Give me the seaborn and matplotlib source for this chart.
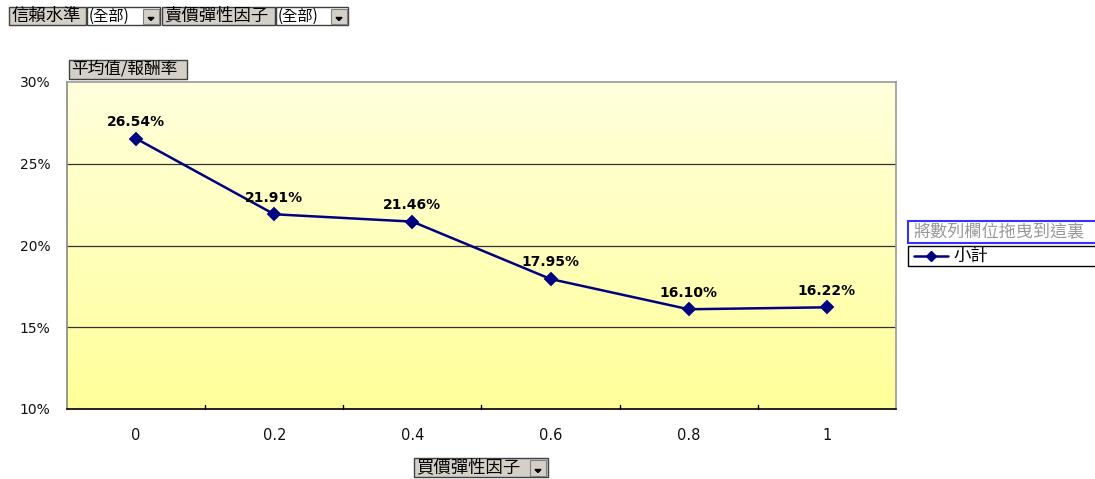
import numpy as np
import pandas as pd
import matplotlib
matplotlib.use("Agg")
import matplotlib.pyplot as plt
import seaborn as sns
from matplotlib.patches import Rectangle, Polygon
from matplotlib.lines import Line2D
from matplotlib.colors import LinearSegmentedColormap

# ---- data ----
categories = ["0", "0.2", "0.4", "0.6", "0.8", "1"]
values = [26.54, 21.91, 21.46, 17.95, 16.10, 16.22]
y_ticks = [10, 15, 20, 25, 30]
y_tick_labels = ["10%", "15%", "20%", "25%", "30%"]
series_name = "小計"
x_field = "買價彈性因子"
y_field = "平均值/報酬率"
filter_fields = ["信賴水準", "賣價彈性因子"]
filter_value = "(全部)"
legend_hint = "將數列欄位拖曳到這裏"

sns.set_theme(style="white")
plt.rcParams['font.family'] = ['Noto Sans CJK TC', 'DejaVu Sans']

W, H = 1095, 479
fig = plt.figure(figsize=(W / 100, H / 100), dpi=100)
fig.patch.set_facecolor("white")

def fx(x):
    return x / W

def fy(y):
    return 1 - y / H

ax = fig.add_axes([fx(67), fy(409), fx(896) - fx(67), fy(82) - fy(409)])

df = pd.DataFrame({"x": categories, "y": values})

# gradient background
cmap = LinearSegmentedColormap.from_list("yel", ["#FFFF99", "#FFFFDD"])
grad = np.linspace(0, 1, 256).reshape(-1, 1)
ax.imshow(grad, extent=[-0.5, 5.5, 10, 30], origin="lower", aspect="auto",
          cmap=cmap, zorder=0)

for g in [15, 20, 25]:
    ax.axhline(g, color="#333333", lw=0.9, zorder=1)

sns.pointplot(data=df, x="x", y="y", color="#000080", markers="D",
              linestyles="-", errorbar=None, markersize=6, linewidth=1.8,
              ax=ax, zorder=3)

for i, v in enumerate(values):
    ax.annotate(f"{v:.2f}%", (i, v), xytext=(0, 7), textcoords="offset points",
                ha="center", va="bottom", fontsize=10, fontweight="bold",
                family=["DejaVu Sans"], color="black", zorder=4)

ax.set_xlim(-0.5, 5.5)
ax.set_ylim(10, 30)
ax.set_yticks(y_ticks)
ax.set_yticklabels(y_tick_labels, fontsize=10, color="#111111",
                   family=["DejaVu Sans"])
ax.set_xticks(range(len(categories)))
ax.set_xticklabels(categories, fontsize=10.5, color="#111111",
                   family=["DejaVu Sans"])
ax.tick_params(axis="x", length=0, pad=14)
ax.tick_params(axis="y", length=0, pad=12)
ax.set_xlabel("")
ax.set_ylabel("")
# boundary ticks
for b in np.arange(0.5, 5.5, 1.0):
    ax.plot([b, b], [10, 10.25], color="black", lw=1, zorder=2, clip_on=False)

for side in ["top", "right"]:
    ax.spines[side].set_color("#999999")
    ax.spines[side].set_linewidth(1.2)
ax.spines["left"].set_color("#888888")
ax.spines["left"].set_linewidth(1.2)
ax.spines["bottom"].set_color("black")
ax.spines["bottom"].set_linewidth(1.2)
if ax.get_legend() is not None:
    ax.get_legend().remove()

# ---- pivot-style buttons ----
def box(x0, y0, x1, y1, face, edge, lw=1.0):
    r = Rectangle((fx(x0), fy(y1)), fx(x1) - fx(x0), fy(y0) - fy(y1),
                  transform=fig.transFigure, facecolor=face, edgecolor=edge,
                  lw=lw, zorder=5)
    fig.add_artist(r)

def label(x, y, text, color="black", size=12.5, ha="left"):
    fig.text(fx(x), fy(y), text, ha=ha, va="center", fontsize=size,
             color=color, zorder=6)

def dropdown(x0, y0, x1, y1):
    box(x0, y0, x1, y1, "#D4D0C8", "#808080", lw=0.8)
    cx = (x0 + x1) / 2
    cy = y1 - 5
    tri = Polygon([(fx(cx - 3), fy(cy - 1.5)), (fx(cx + 3), fy(cy - 1.5)),
                   (fx(cx), fy(cy + 1.5))], closed=True,
                  transform=fig.transFigure, facecolor="black",
                  edgecolor="black", zorder=7)
    fig.add_artist(tri)

# top filter row
box(9, 7, 86, 25, "#D4D0C8", "#404040")
label(11, 16, filter_fields[0], size=12.5)
box(87, 7, 160, 25, "white", "#404040")
label(89, 16, filter_value, size=11)
dropdown(143, 9, 159, 24)
box(162, 7, 275, 25, "#D4D0C8", "#404040")
label(164, 16, filter_fields[1], size=12.5)
box(276, 7, 348, 25, "white", "#404040")
label(278, 16, filter_value, size=11)
dropdown(331, 9, 347, 24)

# y field button
box(69, 60, 187, 79, "#D4D0C8", "#404040")
label(71, 69.5, y_field, size=12)

# x field button
box(414, 458, 548, 477, "#D4D0C8", "#404040")
label(416, 467.5, x_field, size=12.5)
dropdown(530, 460, 546, 476)

# legend area
box(908, 221, 1098, 243, "white", "#3333FF", lw=1.5)
label(914, 232, legend_hint, color="#999999", size=12.3)
box(908, 246, 1098, 266, "white", "black", lw=1.0)
fig.add_artist(Line2D([fx(914), fx(948)], [fy(256), fy(256)],
                      transform=fig.transFigure, color="#000080", lw=1.8,
                      zorder=7))
fig.add_artist(Line2D([fx(931)], [fy(256)], transform=fig.transFigure,
                      color="#000080", marker="D", markersize=5, zorder=8))
label(953, 256, series_name, size=12.5)

fig.savefig("out.png", dpi=100)
